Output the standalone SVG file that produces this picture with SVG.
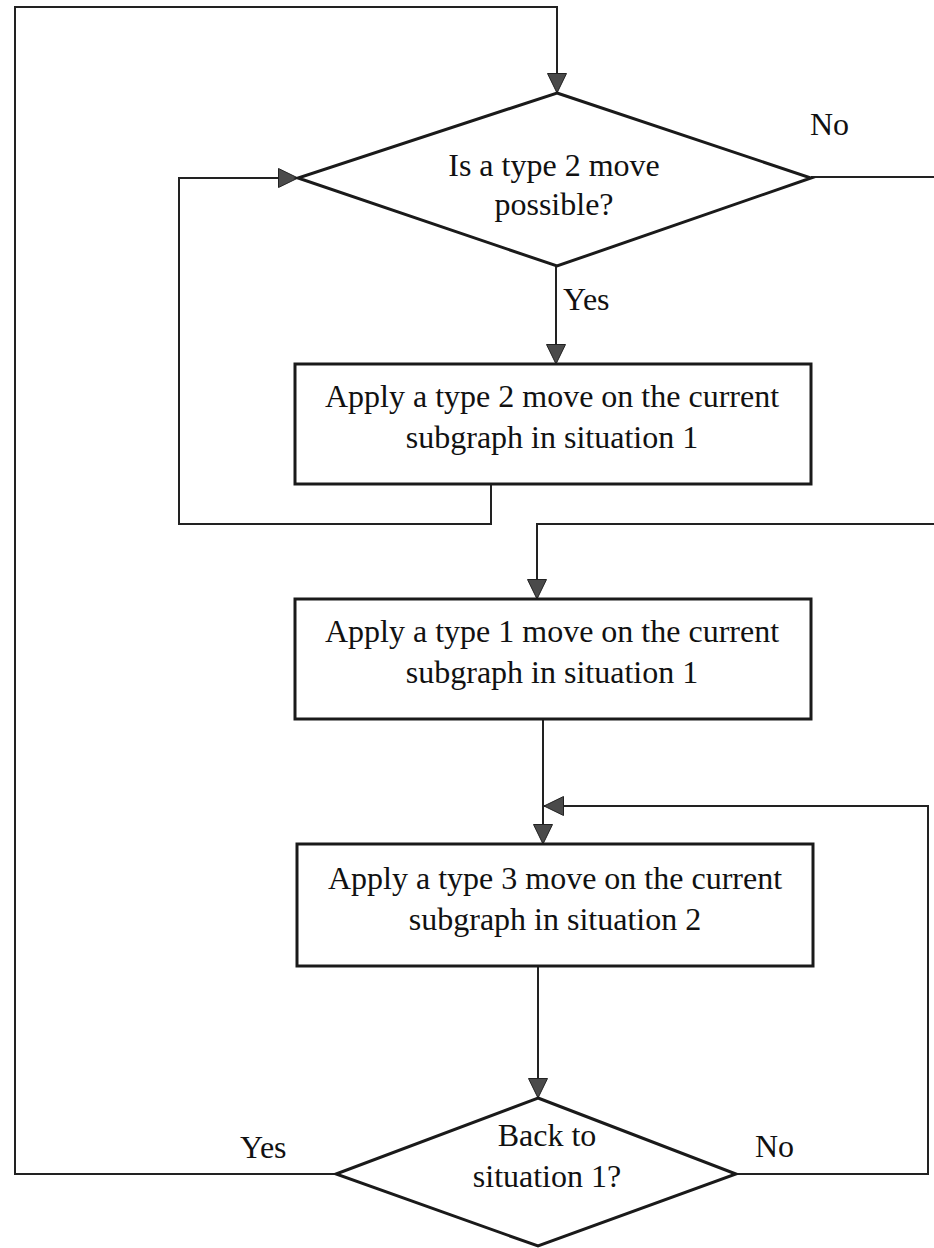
<svg xmlns="http://www.w3.org/2000/svg" width="934" height="1248" viewBox="0 0 934 1248">
<style>
.n{fill:#fff;stroke:#1a1a1a;stroke-width:3}
.c{fill:none;stroke:#222;stroke-width:2}
.t{font-family:"Liberation Serif","Times New Roman",serif;font-size:32px;fill:#111;text-anchor:middle}
.l{font-family:"Liberation Serif","Times New Roman",serif;font-size:32px;fill:#111}
</style>
<defs>
<marker id="ah" markerWidth="20" markerHeight="20" refX="20" refY="10" orient="auto" markerUnits="userSpaceOnUse">
<path d="M0.5,0.5 L20,10 L0.5,19.5 Z" fill="#4a4a4a" stroke="#222" stroke-width="1"/>
</marker>
</defs>
<rect width="934" height="1248" fill="#fff"/>
<g id="connectors">
<path class="c" d="M336,1174 H15 V7 H557 V93" marker-end="url(#ah)"/>
<path class="c" d="M556,266 V364" marker-end="url(#ah)"/>
<path class="c" d="M491,484 V524 H179 V178 H298" marker-end="url(#ah)"/>
<path class="c" d="M811,177 H940 V524 H537 V599" marker-end="url(#ah)"/>
<path class="c" d="M543,719 V844" marker-end="url(#ah)"/>
<path class="c" d="M736,1174 H928 V806 H544" marker-end="url(#ah)"/>
<path class="c" d="M538,966 V1098" marker-end="url(#ah)"/>
</g>
<g id="d1">
<polygon class="n" points="557,93 811,178 557,266 298,178"/>
<text class="t" x="554" y="176">Is a type 2 move</text>
<text class="t" x="554" y="215">possible?</text>
</g>
<g id="b1">
<rect class="n" x="295" y="364" width="516" height="120"/>
<text class="t" x="552" y="407">Apply a type 2 move on the current</text>
<text class="t" x="552" y="448">subgraph in situation 1</text>
</g>
<g id="b2">
<rect class="n" x="295" y="599" width="516" height="120"/>
<text class="t" x="552" y="642">Apply a type 1 move on the current</text>
<text class="t" x="552" y="683">subgraph in situation 1</text>
</g>
<g id="b3">
<rect class="n" x="297" y="844" width="516" height="122"/>
<text class="t" x="555" y="889">Apply a type 3 move on the current</text>
<text class="t" x="555" y="930">subgraph in situation 2</text>
</g>
<g id="d2">
<polygon class="n" points="538,1098 736,1174 538,1246 336,1174"/>
<text class="t" x="547" y="1146">Back to</text>
<text class="t" x="547" y="1187">situation 1?</text>
</g>
<g id="labels">
<text class="l" x="810" y="135">No</text>
<text class="l" x="563" y="310">Yes</text>
<text class="l" x="240" y="1158">Yes</text>
<text class="l" x="755" y="1157">No</text>
</g>
</svg>
